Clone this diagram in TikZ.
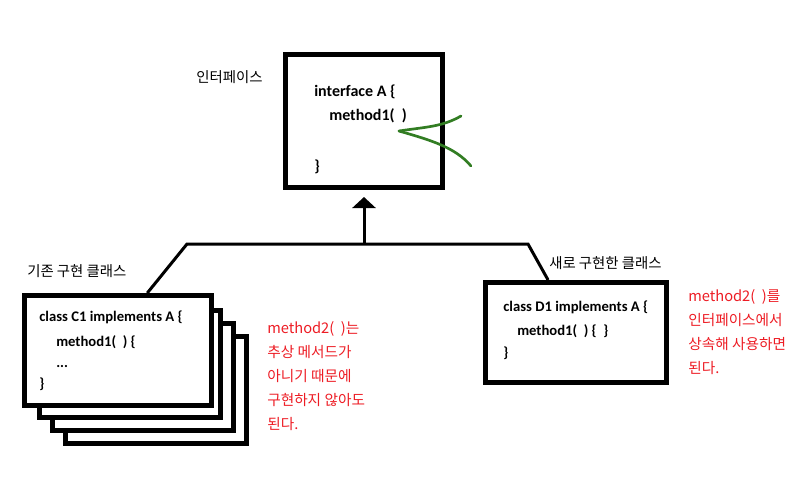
\documentclass[tikz,border=0pt]{standalone}
\usepackage{fontspec}
\setmainfont{Noto Sans CJK KR}
\newfontfamily\codefont{Carlito}
\usetikzlibrary{arrows.meta}
\definecolor{rojo}{RGB}{237,28,36}
\definecolor{verde}{RGB}{50,125,35}

\begin{document}
\begin{tikzpicture}[x=0.75pt, y=-0.75pt,
  caja/.style={rectangle, draw, line width=3.75pt, fill=white, inner sep=0pt},
  codigo/.style={anchor=base west, inner sep=0pt, font=\codefont\bfseries\fontsize{#1}{#1}\selectfont},
  codigo/.default=11pt,
  etiqueta/.style={anchor=base west, inner sep=0pt, font=\fontsize{10.8pt}{12pt}\selectfont},
  nota/.style={anchor=base west, inner sep=0pt, text=rojo, font=\fontsize{11pt}{12pt}\selectfont},
  linea/.style={line width=2.25pt},
  trazo/.style={verde, line width=2pt, line cap=round}]
  \useasboundingbox (0,0) rectangle (808,490);

  % Cajas
  \node[caja, minimum width=117.75pt, minimum height=99.75pt] (A) at (364,121) {};
  \node[caja, minimum width=135.75pt, minimum height=80.25pt] (C1d) at (156,390) {};
  \node[caja, minimum width=135.75pt, minimum height=80.25pt] (C1c) at (143,377) {};
  \node[caja, minimum width=135.75pt, minimum height=80.25pt] (C1b) at (130,364) {};
  \node[caja, minimum width=140.25pt, minimum height=82.5pt] (C1) at (118,350.5) {};
  \node[caja, minimum width=135.75pt, minimum height=75pt] (D1) at (576,332.5) {};

  % Etiquetas
  \node[etiqueta] (lA) at (196,82) {인터페이스};
  \node[etiqueta] (lC) at (27,276) {기존 구현 클래스};
  \node[etiqueta] (lD) at (549,268) {새로 구현한 클래스};

  % Codigo
  \node[codigo=12pt] (a1) at (314,96) {interface A \{};
  \node[codigo=12pt] (a2) at (329,120) {method1(\ \ )};
  \node[codigo=12pt] (a3) at (314,171) {\}};
  \node[codigo] (c1) at (39,321) {class C1 implements A \{};
  \node[codigo] (c2) at (56,346) {method1(\ \ ) \{};
  \node[codigo] (c3) at (56,367) {...};
  \node[codigo] (c4) at (39,388) {\}};
  \node[codigo] (d1) at (503,311) {class D1 implements A \{};
  \node[codigo] (d2) at (517,335) {method1(\ \ ) \{\ \ \}};
  \node[codigo] (d3) at (503,357) {\}};

  % Notas
  \foreach \t [count=\i] in {{method2(\ \ )는}, {추상 메서드가}, {아니기 때문에}, {구현하지 않아도}, {된다.}}
    \node[nota] (nc\i) at (267,309+24*\i) {\t};
  \foreach \t [count=\i] in {{method2(\ \ )를}, {인터페이스에서}, {상속해 사용하면}, {된다.}}
    \node[nota] (nd\i) at (688,277+24*\i) {\t};

  % Conexiones
  \coordinate (izq) at (187,244);
  \coordinate (der) at (528,244);
  \coordinate (centro) at (364,244);
  \draw[linea] (C1.63) -- (izq) -- (der) -- (D1.118);
  \draw[linea, -{Triangle[length=8.25pt, width=17.25pt]}, shorten >=5.25pt] (centro) -- (A.south);

  % Trazos
  \draw[trazo] (399,131) .. controls (425,127) and (442,127) .. (461,116);
  \draw[trazo] (399,131) .. controls (430,140) and (455,147) .. (471,166);
\end{tikzpicture}
\end{document}
